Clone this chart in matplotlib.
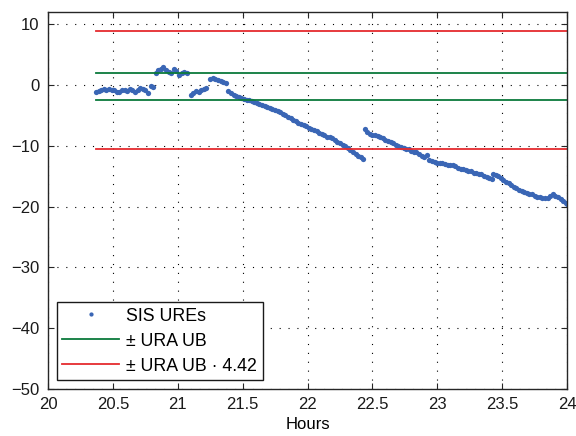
import matplotlib
matplotlib.use("Agg")
import matplotlib.pyplot as plt

plt.rcParams['font.family'] = ['Liberation Sans', 'DejaVu Sans']

# ---- data ----
seg1_x = [20.37, 20.39, 20.41, 20.43, 20.45, 20.47, 20.49, 20.51, 20.53, 20.55, 20.57, 20.59,
          20.61, 20.63, 20.65, 20.67, 20.69, 20.71, 20.73, 20.75, 20.77, 20.79, 20.81]
seg1_y = [-1.2, -1.0, -0.9, -0.7, -0.8, -0.6, -0.8, -0.9, -1.2, -1.1, -0.9, -0.8,
          -1.0, -0.7, -0.9, -1.1, -0.8, -0.5, -0.7, -0.9, -1.3, -0.1, -0.4]
seg2_x = [20.83, 20.85, 20.87, 20.89, 20.91, 20.93, 20.95, 20.97, 20.99, 21.01, 21.03, 21.05, 21.07]
seg2_y = [1.9, 2.4, 2.6, 2.9, 2.5, 2.2, 2.0, 2.6, 2.3, 1.6, 1.9, 2.2, 1.9]
seg3_x = [21.10, 21.12, 21.14, 21.16, 21.18, 21.20, 21.22]
seg3_y = [-1.6, -1.3, -1.0, -1.1, -0.9, -0.7, -0.5]
seg4_x = [21.25, 21.27, 21.29, 21.31, 21.33, 21.35, 21.37]
seg4_y = [1.0, 1.1, 1.0, 0.8, 0.6, 0.5, 0.3]
seg5_x = [21.39, 21.41, 21.43, 21.45, 21.47, 21.49, 21.51, 21.53, 21.55, 21.57, 21.59, 21.61,
          21.63, 21.65, 21.67, 21.69, 21.71, 21.73, 21.75, 21.77, 21.79, 21.81, 21.83, 21.85,
          21.87, 21.89, 21.91, 21.93, 21.95, 21.97, 21.99, 22.01, 22.03, 22.05, 22.07, 22.09,
          22.11, 22.13, 22.15, 22.17, 22.19, 22.21, 22.23, 22.25, 22.27, 22.29, 22.31, 22.33,
          22.35, 22.37, 22.39, 22.41, 22.43]
seg5_y = [-1.0, -1.4, -1.6, -1.8, -2.0, -2.1, -2.3, -2.4, -2.5, -2.6, -2.8, -3.0,
          -3.1, -3.3, -3.5, -3.7, -3.8, -3.9, -4.1, -4.3, -4.5, -4.7, -5.0, -5.3,
          -5.5, -5.8, -6.0, -6.2, -6.4, -6.6, -6.8, -7.0, -7.2, -7.4, -7.6, -7.9,
          -8.1, -8.3, -8.5, -8.6, -8.8, -9.1, -9.4, -9.6, -9.9, -10.1, -10.4, -10.7,
          -11.0, -11.3, -11.6, -11.8, -12.1]
seg6_x = [22.44, 22.46, 22.48, 22.50, 22.52, 22.54, 22.56, 22.58, 22.60, 22.62, 22.64, 22.66,
          22.68, 22.70, 22.72, 22.74, 22.76, 22.78, 22.80, 22.82, 22.84, 22.86, 22.88, 22.90, 22.92]
seg6_y = [-7.3, -7.7, -8.0, -8.2, -8.3, -8.4, -8.6, -8.8, -9.0, -9.2, -9.4, -9.6,
          -9.8, -10.0, -10.2, -10.4, -10.5, -10.6, -10.8, -11.0, -11.1, -11.3, -11.6, -11.8, -11.5]
seg7_x = [22.94, 22.96, 22.98, 23.00, 23.02, 23.04, 23.06, 23.08, 23.10, 23.12, 23.14, 23.16,
          23.18, 23.20, 23.22, 23.24, 23.26, 23.28, 23.30, 23.32, 23.34, 23.36, 23.38, 23.40, 23.42]
seg7_y = [-12.4, -12.5, -12.6, -12.8, -12.9, -12.9, -13.0, -13.1, -13.2, -13.2, -13.4, -13.6,
          -13.8, -13.9, -14.0, -14.1, -14.2, -14.4, -14.5, -14.6, -14.7, -14.9, -15.1, -15.3, -15.5]
seg8_x = [23.43, 23.45, 23.47, 23.49, 23.51, 23.53, 23.55, 23.57, 23.59, 23.61, 23.63, 23.65,
          23.67, 23.69, 23.71, 23.73, 23.75, 23.77, 23.79, 23.81, 23.83, 23.85, 23.87, 23.89,
          23.91, 23.93, 23.95, 23.97, 23.99, 24.00]
seg8_y = [-14.6, -14.8, -15.0, -15.3, -15.6, -15.9, -16.2, -16.5, -16.8, -17.0, -17.2, -17.4,
          -17.6, -17.7, -17.9, -18.0, -18.2, -18.4, -18.5, -18.6, -18.6, -18.6, -18.3, -18.0,
          -18.2, -18.5, -18.8, -19.0, -19.4, -19.5]

ure_x = seg1_x + seg2_x + seg3_x + seg4_x + seg5_x + seg6_x + seg7_x + seg8_x
ure_y = seg1_y + seg2_y + seg3_y + seg4_y + seg5_y + seg6_y + seg7_y + seg8_y

bound_x = [20.37, 24.0]
ura_upper = 2.0
ura_lower = -2.4
factor = 4.42

x_ticks = [20, 20.5, 21, 21.5, 22, 22.5, 23, 23.5, 24]
x_labels = ['20', '20.5', '21', '21.5', '22', '22.5', '23', '23.5', '24']
y_ticks = [-50, -40, -30, -20, -10, 0, 10]
y_labels = ['\u221250', '\u221240', '\u221230', '\u221220', '\u221210', '0', '10']

blue = '#3a66b5'
green = '#0b7a3b'
red = '#e52b2e'

fig = plt.figure(figsize=(5.76, 4.36), dpi=100)
ax = fig.add_axes([48 / 576, 1 - 389 / 436, (567 - 48) / 576, (389 - 12) / 436])

ax.plot(ure_x, ure_y, linestyle='none', marker='o', markersize=3.8, color=blue,
        markeredgewidth=0, label='SIS UREs')
ax.plot(bound_x, [ura_upper, ura_upper], color=green, lw=1.3, label='\u00b1 URA UB')
ax.plot(bound_x, [ura_lower, ura_lower], color=green, lw=1.3)
ax.plot(bound_x, [ura_upper * factor] * 2, color=red, lw=1.3,
        label='\u00b1 URA UB \u00b7 4.42')
ax.plot(bound_x, [ura_lower * factor] * 2, color=red, lw=1.3)

ax.set_xlim(20, 24)
ax.set_ylim(-50, 12)
ax.set_xticks(x_ticks)
ax.set_xticklabels(x_labels)
ax.set_yticks(y_ticks)
ax.set_yticklabels(y_labels)
ax.tick_params(direction='in', top=True, right=True, length=4, width=0.8,
               labelsize=12, colors='#262626', pad=6)
for tl in ax.get_xticklabels() + ax.get_yticklabels():
    tl.set_color('#1a1a1a')
for s in ax.spines.values():
    s.set_linewidth(1.0)
    s.set_color('#262626')
ax.grid(True, linestyle=(0, (1, 7)), color='black', linewidth=0.8)
ax.set_xlabel('Hours', fontsize=12, labelpad=3)

leg = ax.legend(loc='lower left', bbox_to_anchor=(9 / 519, 9 / 377), borderaxespad=0,
                fontsize=12.8, handlelength=3.2, numpoints=1, markerscale=0.8,
                fancybox=False, framealpha=1, borderpad=0.3, labelspacing=0.45,
                handletextpad=0.4)
leg.get_frame().set_edgecolor('#1a1a1a')
leg.get_frame().set_linewidth(1.0)

fig.savefig('out.png', dpi=100)
